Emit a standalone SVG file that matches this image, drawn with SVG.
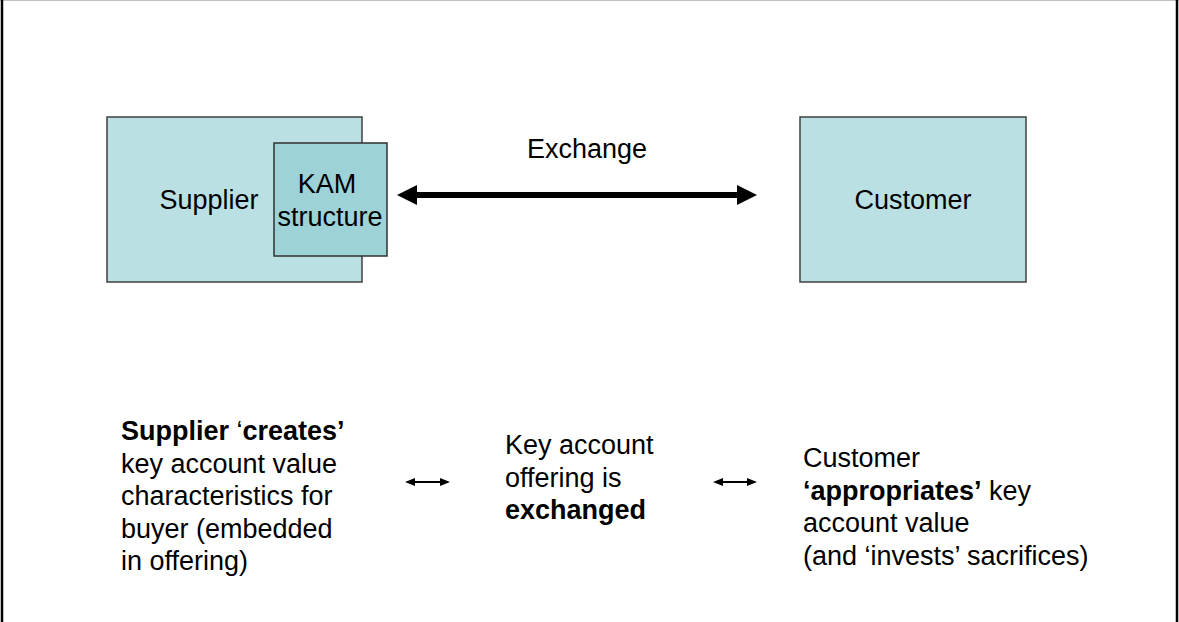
<svg xmlns="http://www.w3.org/2000/svg" width="1179" height="622" viewBox="0 0 1179 622">
  <style>
    text { font-family: "Liberation Sans", Arial, sans-serif; font-size: 27px; fill: #000; }
    .b { font-weight: bold; }
    .box { fill: #bbe0e3; stroke: #404040; stroke-width: 1.5; }
    .inner { fill: #9dd3d6; stroke: #303030; stroke-width: 1.5; }
    .big { stroke: #000; stroke-width: 6; fill: none; }
    .small { stroke: #000; stroke-width: 2; fill: none; }
  </style>
  <defs>
    <marker id="headBig" markerUnits="userSpaceOnUse" markerWidth="20" markerHeight="20" refX="0" refY="10" orient="auto-start-reverse">
      <path d="M0,0 L20,10 L0,20 Z" fill="#000"/>
    </marker>
    <marker id="headSmall" markerUnits="userSpaceOnUse" markerWidth="10" markerHeight="8" refX="0" refY="4" orient="auto-start-reverse">
      <path d="M0,0 L10,4 L0,8 Z" fill="#000"/>
    </marker>
  </defs>

  <rect width="1179" height="622" fill="#fff"/>
  <!-- frame -->
  <line x1="0" y1="0.5" x2="1179" y2="0.5" stroke="#c0c0c0" stroke-width="1"/>
  <line x1="2" y1="0" x2="2" y2="622" stroke="#000" stroke-width="2.5"/>
  <line x1="1177" y1="0" x2="1177" y2="622" stroke="#000" stroke-width="2.5"/>

  <g id="supplier">
    <rect class="box" x="107" y="117" width="255" height="165"/>
    <text x="209" y="209" text-anchor="middle">Supplier</text>
  </g>

  <g id="kam-structure">
    <rect class="inner" x="274" y="143" width="113" height="113"/>
    <text x="327" y="193" text-anchor="middle">KAM</text>
    <text x="330" y="226" text-anchor="middle">structure</text>
  </g>

  <g id="customer">
    <rect class="box" x="800" y="117" width="226" height="165"/>
    <text x="913" y="209" text-anchor="middle">Customer</text>
  </g>

  <g id="connectors">
    <line class="big" x1="417" y1="195" x2="737" y2="195" marker-start="url(#headBig)" marker-end="url(#headBig)"/>
    <line class="small" x1="415" y1="482" x2="440" y2="482" marker-start="url(#headSmall)" marker-end="url(#headSmall)"/>
    <line class="small" x1="723" y1="482" x2="747" y2="482" marker-start="url(#headSmall)" marker-end="url(#headSmall)"/>
  </g>

  <g id="exchange-label">
    <text x="587" y="158" text-anchor="middle">Exchange</text>
  </g>

  <g id="supplier-note">
    <text x="121" y="440"><tspan class="b">Supplier</tspan> ‘<tspan class="b">creates’</tspan></text>
    <text x="121" y="472.5">key account value</text>
    <text x="121" y="505">characteristics for</text>
    <text x="121" y="537.5">buyer (embedded</text>
    <text x="121" y="570">in offering)</text>
  </g>

  <g id="offering-note">
    <text x="505" y="454">Key account</text>
    <text x="505" y="486.5">offering is</text>
    <text x="505" y="519" class="b">exchanged</text>
  </g>

  <g id="customer-note">
    <text x="803" y="467">Customer</text>
    <text x="803" y="499.5"><tspan class="b">‘appropriates’</tspan> key</text>
    <text x="803" y="532">account value</text>
    <text x="803" y="564.5">(and ‘invests’ sacrifices)</text>
  </g>
</svg>
